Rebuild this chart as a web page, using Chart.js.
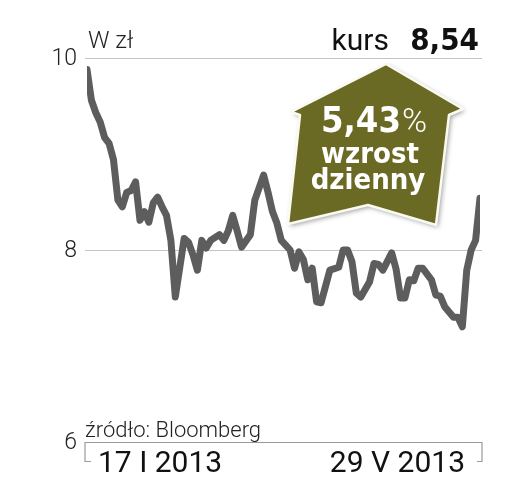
<!DOCTYPE html>
<html>
<head>
<meta charset="utf-8">
<script src="https://cdn.jsdelivr.net/npm/chart.js@4.4.1/dist/chart.umd.min.js"></script>
<style>
  html, body { margin: 0; padding: 0; background: #fff; }
  #wrap { width: 513px; height: 492px; position: relative; }
</style>
</head>
<body>
<div id="wrap"><canvas id="chart"></canvas></div>
<script>
// trading day number from 17 I 2013 (0) to 29 V 2013 (89)
const days = [
   0,  1,  2,  3,  4,  5,  6,  7,  8,  9,
  10, 11, 12, 13, 14, 15, 16, 17, 18, 19,
  20, 22, 23, 24, 25, 26, 27, 28, 30, 31,
  32, 33, 34, 35, 37, 38, 39, 40, 41, 42,
  43, 44, 45, 46, 47, 48, 49, 50, 51, 52,
  53, 54, 55, 57, 58, 59, 60, 61, 62, 64,
  65, 66, 67, 69, 70, 71, 72, 73, 74, 75,
  76, 78, 79, 80, 81, 83, 84, 85, 86, 87,
  88, 89
];
// close, PLN
const prices = [
  9.88, 9.56, 9.43, 9.33, 9.17, 9.11, 8.94, 8.52, 8.45, 8.60,
  8.62, 8.71, 8.31, 8.40, 8.29, 8.49, 8.55, 8.45, 8.36, 8.10,
  7.51, 8.12, 8.08, 7.95, 7.79, 8.10, 8.02, 8.10, 8.16, 8.10,
  8.20, 8.36, 8.20, 8.03, 8.16, 8.52, 8.65, 8.78, 8.60, 8.40,
  8.28, 8.10, 8.05, 8.00, 7.81, 7.98, 7.90, 7.69, 7.81, 7.46,
  7.45, 7.62, 7.79, 7.82, 8.00, 8.00, 7.88, 7.55, 7.51, 7.67,
  7.86, 7.85, 7.79, 7.97, 7.80, 7.50, 7.50, 7.69, 7.68, 7.81,
  7.81, 7.69, 7.53, 7.52, 7.41, 7.30, 7.30, 7.20, 7.79, 8.00,
  8.10, 8.54
];
const yTicks = [6, 8, 10];
const dateLabels = ['17 I 2013', '29 V 2013'];
const unitText = 'W zł';
const lastPrice = '8,54';
const dailyChange = '5,43';
const sourceText = 'źródło: Bloomberg';

const COND = '"DejaVu Sans Condensed", "Liberation Sans Narrow", sans-serif';

let frame = {
  id: 'frame',
  beforeDatasetsDraw(chart) {
    let ctx = chart.ctx;
    let y = chart.scales.y;
    let a = chart.chartArea;
    ctx.save();
    ctx.strokeStyle = '#c4c4c4';
    ctx.lineWidth = 1.2;
    yTicks.forEach(t => {
      if (t === y.min) return;
      let py = Math.round(y.getPixelForValue(t)) + 0.5;
      ctx.beginPath();
      ctx.moveTo(a.left - 2, py);
      ctx.lineTo(a.right + 2, py);
      ctx.stroke();
    });
    // bracket at the bottom
    let by = Math.round(y.getPixelForValue(y.min)) + 0.5;
    ctx.strokeStyle = '#9a9a9a';
    ctx.beginPath();
    ctx.moveTo(a.left + 4, by + 19);
    ctx.lineTo(a.left - 2, by + 19);
    ctx.lineTo(a.left - 2, by);
    ctx.lineTo(a.right + 2, by);
    ctx.lineTo(a.right + 2, by + 19);
    ctx.lineTo(a.right - 3, by + 19);
    ctx.stroke();

    ctx.fillStyle = '#222';
    ctx.font = '300 23px Roboto';
    ctx.textAlign = 'right';
    ctx.textBaseline = 'middle';
    yTicks.forEach(t => {
      ctx.fillText(String(t), a.left - 10, y.getPixelForValue(t) + 1);
    });
    ctx.textAlign = 'left';
    ctx.textBaseline = 'alphabetic';
    ctx.font = '300 24px Roboto';
    ctx.fillText(unitText, a.left + 1, 48);
    ctx.font = '300 22px Roboto';
    ctx.fillText(sourceText, a.left - 2, 437);

    ctx.font = '400 30px Roboto';
    ctx.fillStyle = '#111';
    ctx.fillText(dateLabels[0], a.left + 11, 472);
    ctx.textAlign = 'right';
    ctx.fillText(dateLabels[1], a.right - 15, 472);

    ctx.textAlign = 'right';
    ctx.fillText('kurs', 389, 50);
    ctx.font = 'bold 31px ' + COND;
    ctx.fillText(lastPrice, 479, 50);
    ctx.restore();
  },
  afterDatasetsDraw(chart) {
    let ctx = chart.ctx;
    ctx.save();
    ctx.beginPath();
    ctx.moveTo(386, 64);
    ctx.lineTo(463, 109);
    ctx.lineTo(449, 115);
    ctx.lineTo(436, 225);
    ctx.lineTo(368, 205);
    ctx.lineTo(288, 224);
    ctx.lineTo(300, 115);
    ctx.lineTo(291, 112);
    ctx.closePath();
    ctx.shadowColor = 'rgba(0,0,0,0.4)';
    ctx.shadowBlur = 5;
    ctx.shadowOffsetX = 2;
    ctx.shadowOffsetY = 2;
    ctx.fillStyle = '#6b6a24';
    ctx.fill();
    ctx.shadowColor = 'transparent';
    ctx.strokeStyle = '#fbfaf0';
    ctx.lineWidth = 2.5;
    ctx.lineJoin = 'round';
    ctx.stroke();

    ctx.fillStyle = '#fff';
    ctx.textAlign = 'left';
    ctx.textBaseline = 'alphabetic';
    ctx.font = 'bold 36px ' + COND;
    ctx.fillText(dailyChange, 321, 132);
    let w = ctx.measureText(dailyChange).width;
    ctx.font = '300 34px Roboto';
    ctx.fillText('%', 321 + w + 1, 132);
    ctx.textAlign = 'center';
    ctx.font = 'bold 29px ' + COND;
    ctx.fillText('wzrost', 370, 163);
    ctx.fillText('dzienny', 368, 189);
    ctx.restore();
  }
};

new Chart(document.getElementById('chart'), {
  type: 'line',
  data: {
    datasets: [{
      data: days.map((d, i) => ({ x: d, y: prices[i] })),
      borderColor: '#5d5d5d',
      borderWidth: 7,
      borderJoinStyle: 'round',
      borderCapStyle: 'round',
      pointRadius: 0,
      tension: 0,
      fill: false
    }]
  },
  options: {
    responsive: true,
    maintainAspectRatio: false,
    animation: false,
    devicePixelRatio: 1,
    layout: { padding: { left: 87, right: 33, top: 58, bottom: 50 } },
    plugins: { legend: { display: false }, tooltip: { enabled: false } },
    scales: {
      x: { type: 'linear', display: false, min: days[0], max: days[days.length - 1] },
      y: { display: false, min: 6, max: 10 }
    }
  },
  plugins: [frame]
});
</script>
</body>
</html>
